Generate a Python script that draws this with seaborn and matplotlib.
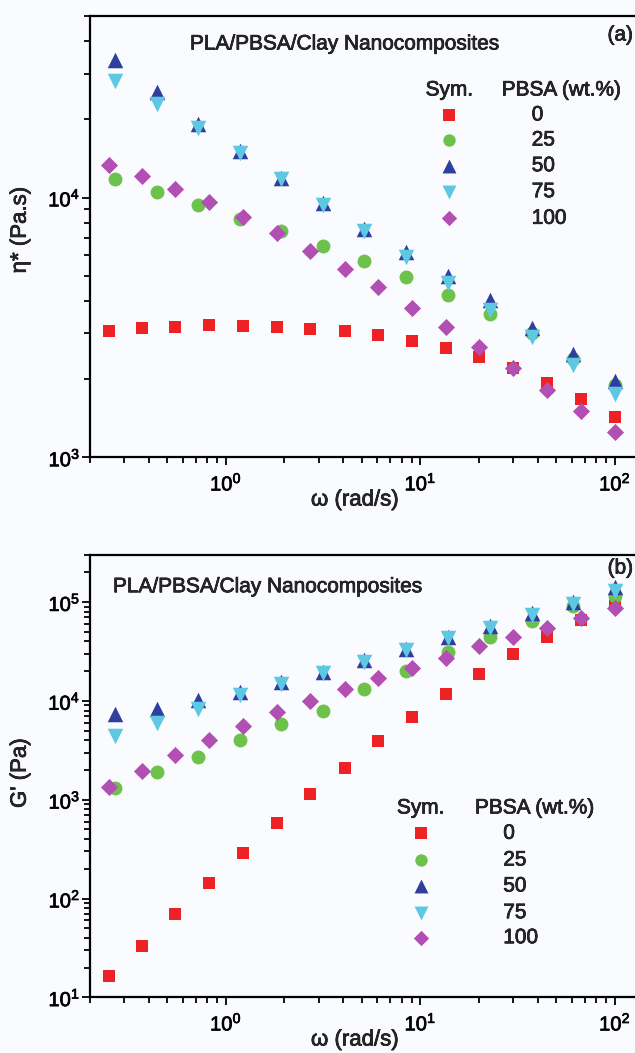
import numpy as np
import pandas as pd
import matplotlib
matplotlib.use("Agg")
import matplotlib.pyplot as plt
import matplotlib.patheffects as pe
import seaborn as sns
from matplotlib.ticker import LogLocator, NullFormatter

# ---------------- data ----------------
omega_16 = [0.25, 0.37, 0.55, 0.82, 1.23, 1.83, 2.72, 4.07, 6.06, 9.06, 13.5, 20.1, 30.0, 45.0, 67.0, 100.0]
omega_13 = [0.27, 0.44, 0.72, 1.18, 1.93, 3.15, 5.15, 8.45, 13.9, 22.8, 37.3, 61.0, 100.0]

pbsa_labels = ["0", "25", "50", "75", "100"]

eta_0 = [3060, 3150, 3170, 3220, 3200, 3170, 3130, 3060, 2950, 2800, 2630, 2430, 2200, 1930, 1670, 1430]
eta_25 = [11770, 10550, 9380, 8270, 7450, 6530, 5720, 4960, 4230, 3570, 3000, 2380, 1900]
eta_50 = [33970, 25510, 19120, 15100, 11940, 9520, 7560, 6150, 5010, 4020, 3150, 2490, 1960]
eta_75 = [28220, 22950, 18560, 14800, 11800, 9400, 7450, 5920, 4680, 3700, 2900, 2260, 1750]
eta_100 = [13320, 12120, 10830, 9630, 8380, 7290, 6210, 5320, 4520, 3760, 3170, 2660, 2200, 1820, 1510, 1250]

G_0 = [16.5, 33.3, 69.6, 144, 292, 583, 1137, 2117, 3904, 6870, 11660, 18880, 29580, 44260, 65300, 92600]
G_25 = [1328, 1910, 2713, 3996, 5895, 7846, 13300, 19930, 31220, 44260, 63800, 90480, 115000]
G_50 = [7320, 8360, 10100, 12300, 15500, 19600, 25700, 33800, 44300, 56800, 77400, 100000, 142000]
G_75 = [4390, 5980, 8360, 11600, 15000, 19000, 25000, 33000, 43000, 55000, 74000, 96000, 130000]
G_100 = [1347, 1941, 2818, 3996, 5530, 7720, 10090, 13100, 17200, 21710, 27400, 35650, 44260, 55100, 68870, 86900]

colors = ["#ee2224", "#6cc24a", "#2e3f9e", "#5ec8e2", "#b24fb2"]
markers = ["s", "o", "^", "v", "D"]
sizes = [80, 100, 125, 125, 76]

# ---------------- style ----------------
sns.set_style("ticks")
bg = "#fafbfe"
plt.rcParams["font.family"] = ["Liberation Sans", "DejaVu Sans"]
plt.rcParams["mathtext.fontset"] = "custom"
plt.rcParams["mathtext.rm"] = "Liberation Sans"
plt.rcParams["mathtext.it"] = "Liberation Sans:italic"
plt.rcParams["mathtext.bf"] = "Liberation Sans:bold"
plt.rcParams["axes.linewidth"] = 1.5
plt.rcParams["xtick.labelsize"] = 14.5
plt.rcParams["ytick.labelsize"] = 14.5

heavy = [pe.withStroke(linewidth=0.5, foreground="black")]

fig = plt.figure(figsize=(6.35, 10.53), dpi=100, facecolor=bg)
W, H = 635.0, 1053.0
ax_a = fig.add_axes([90 / W, 1 - 457.3 / H, 545 / W, 441.3 / H])
ax_b = fig.add_axes([90 / W, 1 - 997.3 / H, 545 / W, 442.3 / H])

top_series = [(omega_16, eta_0), (omega_13, eta_25), (omega_13, eta_50), (omega_13, eta_75), (omega_16, eta_100)]
bot_series = [(omega_16, G_0), (omega_13, G_25), (omega_13, G_50), (omega_13, G_75), (omega_16, G_100)]

for ax, series in [(ax_a, top_series), (ax_b, bot_series)]:
    ax.set_facecolor(bg)
    for (xs, ys), c, m, s, lab in zip(series, colors, markers, sizes, pbsa_labels):
        df = pd.DataFrame({"omega": xs, "val": ys})
        sns.scatterplot(data=df, x="omega", y="val", marker=m, color=c, s=s,
                        linewidth=0, ax=ax, legend=False, zorder=3, clip_on=False)
    ax.set_xscale("log")
    ax.set_yscale("log")
    ax.set_xlim(0.2, 126.8)
    ax.spines["right"].set_visible(False)
    for sp in ["left", "bottom", "top"]:
        ax.spines[sp].set_linewidth(1.6)
        ax.spines[sp].set_color("black")
    ax.xaxis.set_major_locator(LogLocator(base=10, numticks=10))
    ax.xaxis.set_minor_locator(LogLocator(base=10, subs=np.arange(2, 10), numticks=20))
    ax.xaxis.set_minor_formatter(NullFormatter())
    ax.yaxis.set_minor_locator(LogLocator(base=10, subs=np.arange(2, 10), numticks=20))
    ax.yaxis.set_minor_formatter(NullFormatter())
    ax.tick_params(axis="both", which="both", direction="out", top=False, right=False,
                   labelsize=14.5, colors="black", width=1.3)
    ax.tick_params(axis="y", which="major", length=6, pad=1)
    ax.tick_params(axis="y", which="minor", length=4)
    ax.tick_params(axis="x", which="major", length=6, pad=5)
    ax.tick_params(axis="x", which="minor", length=4)
    ax.set_xlabel("ω (rad/s)", fontsize=16, path_effects=heavy)
    ax.xaxis.label.set_va("center")
    ax.yaxis.label.set_va("center")

ax_a.set_ylim(1000, 50000)
ax_b.set_ylim(10, 3e5)

ax_a.set_ylabel("η* (Pa.s)", fontsize=16, path_effects=heavy)
ax_b.set_ylabel("G' (Pa)", fontsize=16, path_effects=heavy)
ax_a.xaxis.set_label_coords(0.486, -0.0968)
ax_b.xaxis.set_label_coords(0.486, -0.0965)
ax_a.yaxis.set_label_coords(-0.128, 0.515)
ax_b.yaxis.set_label_coords(-0.128, 0.507)

fs = 15
# titles and panel letters
for ax, (tx, ty), letter, (lx, ly) in [(ax_a, (0.1835, 0.9366), "(a)", (0.9963, 0.957)),
                                        (ax_b, (0.0422, 0.9283), "(b)", (0.9963, 0.9706))]:
    ax.text(tx, ty, "PLA/PBSA/Clay Nanocomposites", transform=ax.transAxes, fontsize=fs,
            ha="left", va="center", path_effects=heavy)
    ax.text(lx, ly, letter, transform=ax.transAxes, fontsize=fs, ha="right", va="center",
            path_effects=heavy)

# custom symbol tables
def sym_table(ax, x_sym, y_head, x_pbsa, x_val, rows):
    ax.text(x_sym, y_head, "Sym.", transform=ax.transAxes, fontsize=fs, ha="center", va="center",
            path_effects=heavy)
    ax.text(x_pbsa, y_head, "PBSA (wt.%)", transform=ax.transAxes, fontsize=fs, ha="left", va="center",
            path_effects=heavy)
    for yr, c, m, s, lab in zip(rows, colors, markers, sizes, pbsa_labels):
        ax.scatter([x_sym], [yr], marker=m, color=c, s=s * 0.8, linewidths=0,
                   transform=ax.transAxes, clip_on=False, zorder=4)
        ax.text(x_val, yr, lab, transform=ax.transAxes, fontsize=fs, ha="left", va="center",
                path_effects=heavy)

sym_table(ax_a, 0.6596, 0.8323, 0.7554, 0.8105, [0.7757, 0.719, 0.6608, 0.6019, 0.5416])
sym_table(ax_b, 0.607, 0.428, 0.7064, 0.7583, [0.3708, 0.3104, 0.2516, 0.1913, 0.1347])

for ax in (ax_a, ax_b):
    for lab in ax.get_xticklabels() + ax.get_yticklabels():
        lab.set_path_effects(heavy)

fig.savefig("out.png", dpi=100, facecolor=bg)
